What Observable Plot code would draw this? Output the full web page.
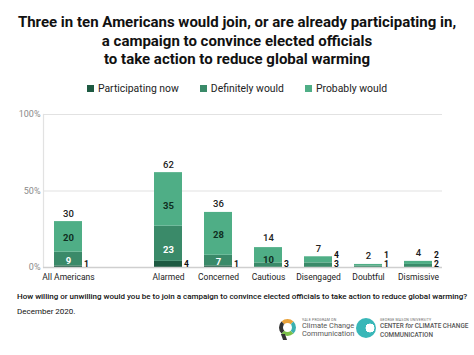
<!DOCTYPE html>
<html>
<head>
<meta charset="utf-8">
<script src="https://cdn.jsdelivr.net/npm/d3@7"></script>
<script src="https://cdn.jsdelivr.net/npm/@observablehq/plot@0.6"></script>
<style>
  html, body { margin: 0; padding: 0; background: #fff; }
  #wrap { position: relative; width: 474px; height: 355px; overflow: hidden; font-family: Roboto, "Open Sans", sans-serif; color: #111; }
  #title { position: absolute; left: 0; top: 13px; width: 474px; text-align: center; font-weight: 700; font-size: 15px; line-height: 18.5px; color: #111; }
  #legend { position: absolute; left: 0; top: 82px; width: 474px; display: flex; justify-content: center; gap: 21px; font-size: 10.4px; color: #222; }
  #legend .item { display: flex; align-items: center; gap: 4px; }
  #legend .sw { width: 7px; height: 7px; display: inline-block; }
  #chart { position: absolute; left: 0; top: 100px; }
  #caption { position: absolute; left: 17px; top: 292px; font-size: 8px; font-weight: 500; color: #111; white-space: nowrap; }
  #date { position: absolute; left: 17px; top: 307px; font-size: 8px; color: #111; }
  .logo { position: absolute; top: 318px; }
  .small { font-size: 3.5px; letter-spacing: 0.2px; color: #666; }
  .l1 { font-size: 7.4px; line-height: 8px; color: #555; }
  .l2 { font-size: 6.4px; line-height: 8.5px; color: #555; font-weight: 500; }
</style>
</head>
<body>
<div id="wrap">
  <div id="title">Three in ten Americans would join, or are already participating in,<br>a campaign to convince elected officials<br>to take action to reduce global warming</div>
  <div id="legend"></div>
  <div id="chart"></div>
  <div id="caption">How willing or unwilling would you be to join a campaign to convince elected officials to take action to reduce global warming?</div>
  <div id="date">December 2020.</div>
  <div class="logo" style="left:279px;">
    <div style="position:absolute;left:0;top:1px;width:9px;height:9px;border-radius:50%;border:4px solid #333;border-top-color:#e9a23b;border-right-color:#3bb0b0;border-bottom-color:#7cc04a;"></div>
    <div style="position:absolute;left:3px;top:16px;width:4px;height:6px;background:#333;transform:skewX(20deg);"></div>
    <div style="position:absolute;left:23px;top:0;white-space:nowrap;">
      <div class="small">YALE PROGRAM ON</div>
      <div class="l1">Climate Change</div>
      <div class="l1">Communication</div>
    </div>
  </div>
  <div class="logo" style="left:356px;">
    <div style="position:absolute;left:0;top:0;width:20px;height:20px;border-radius:50%;background:radial-gradient(circle at 70% 50%, #fff 0 25%, #39b7b8 27% 100%);"></div>
    <div style="position:absolute;left:24px;top:0;white-space:nowrap;">
      <div class="small">GEORGE MASON UNIVERSITY</div>
      <div class="l2">CENTER <i>for</i> CLIMATE CHANGE</div>
      <div class="l2">COMMUNICATION</div>
    </div>
  </div>
</div>
<script>
// ---- data ----
const categories = ["All Americans", "Alarmed", "Concerned", "Cautious", "Disengaged", "Doubtful", "Dismissive"];
const seriesNames = ["Participating now", "Definitely would", "Probably would"];
const participating = [1, 4, 1, 0, 0, 0, 0];
const definitely = [9, 23, 7, 3, 3, 1, 2];
const probably = [20, 35, 28, 10, 4, 1, 2];
const totals = [30, 62, 36, 14, 7, 2, 4];
const yTicks = [0, 50, 100];
const colors = ["#1e5a42", "#3a8a69", "#4fae86"];

// ---- legend ----
const legend = document.getElementById("legend");
seriesNames.forEach((s, i) => {
  const it = document.createElement("div");
  it.className = "item";
  it.innerHTML = `<span class="sw" style="background:${colors[i]}"></span><span>${s}</span>`;
  legend.appendChild(it);
});

// ---- build rows ----
const valuesBySeries = [participating, definitely, probably];
const rows = [];
categories.forEach((c, ci) => {
  seriesNames.forEach((s, si) => {
    rows.push({cat: c, series: s, si, value: valuesBySeries[si][ci]});
  });
});
// outside labels: small non-zero segments, slot = order among non-zero segments
const outside = [];
categories.forEach((c) => {
  let slot = 0;
  rows.filter(r => r.cat === c).forEach(r => {
    if (r.value > 0) {
      if (r.value < 7) outside.push({...r, slot});
      slot++;
    }
  });
});
const inside = rows.filter(r => r.value >= 7);
const totalRows = categories.map((c, i) => ({cat: c, total: totals[i]}));
const xDomain = [categories[0], " ", ...categories.slice(1)];

const chart = Plot.plot({
  width: 474,
  height: 186,
  marginLeft: 43,
  marginRight: 32,
  marginTop: 14,
  marginBottom: 19,
  style: {fontFamily: "Roboto, sans-serif", fontSize: "9px", background: "transparent"},
  x: {domain: xDomain, paddingInner: 0.44, paddingOuter: 0.21, label: null},
  y: {domain: [0, 100], label: null},
  color: {domain: seriesNames, range: colors},
  marks: [
    Plot.ruleY([50, 100], {stroke: "#e2e2e2", strokeWidth: 1.2}),
    Plot.frame({anchor: "left", stroke: "#e2e2e2", strokeWidth: 1.2}),
    Plot.barY(rows, {x: "cat", y: "value", fill: "series"}),
    Plot.ruleY([0], {stroke: "#cfcfcf", strokeWidth: 1.5}),
    Plot.text(inside, Plot.stackY({
      x: "cat", y: "value", z: "series", text: d => String(d.value),
      fill: d => d.si === 1 ? "#ffffff" : "#0f2f22", fontWeight: 700, fontSize: 9.5
    })),
    Plot.text(outside.filter(d => d.slot === 0), {
      x: "cat", y: () => 0, text: d => String(d.value), dx: 18, dy: -3.5,
      fill: "#111", fontWeight: 700, fontSize: 8.5
    }),
    Plot.text(outside.filter(d => d.slot === 1), {
      x: "cat", y: () => 0, text: d => String(d.value), dx: 18, dy: -12,
      fill: "#111", fontWeight: 700, fontSize: 8.5
    }),
    Plot.text(totalRows, {x: "cat", y: "total", text: d => String(d.total), dy: -8, fill: "#222", fontSize: 9.5, fontWeight: 500}),
    Plot.axisY({ticks: yTicks, tickFormat: d => d + "%", tickSize: 0, tickPadding: 3, color: "#8a8a8a", fontSize: 9}),
    Plot.axisX({tickSize: 0, tickPadding: 6, color: "#222", fontSize: 8.5, label: null})
  ]
});
document.getElementById("chart").appendChild(chart);
</script>
</body>
</html>
